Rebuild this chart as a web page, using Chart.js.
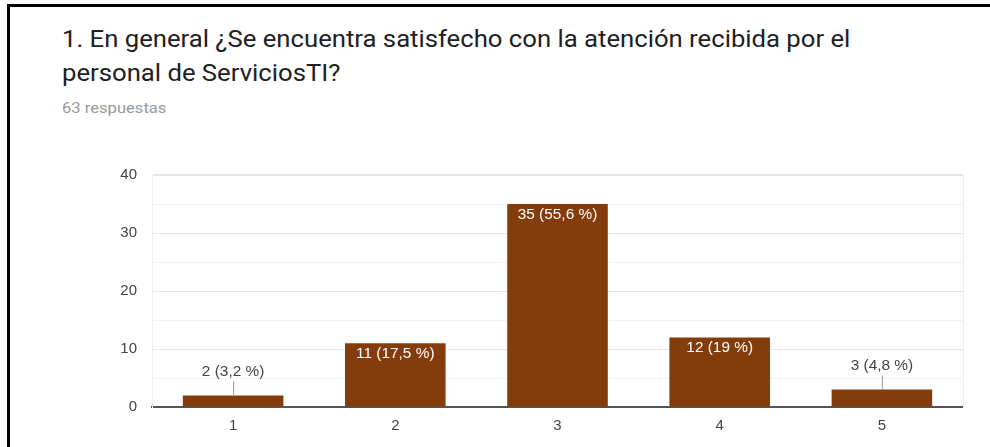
<!DOCTYPE html>
<html>
<head>
<meta charset="utf-8">
<script src="https://cdn.jsdelivr.net/npm/chart.js@4/dist/chart.umd.min.js"></script>
<style>
    html, body { margin: 0; padding: 0; background: #fff; }
    #wrap { position: relative; width: 990px; height: 447px; overflow: hidden; }
    #frame {
        position: absolute; left: 7px; top: 4px; width: 1200px; height: 800px;
        border-left: 3px solid #000; border-top: 3px solid #000;
    }
    #title {
        position: absolute; left: 62px; top: 22px; margin: 0; white-space: nowrap;
        font: 400 24px Roboto, Arial, sans-serif; line-height: 34px; color: #202124;
        transform: scaleX(1.07); transform-origin: 0 0;
    }
    #count {
        position: absolute; left: 62px; top: 99px; white-space: nowrap;
        font: 400 15.5px Roboto, Arial, sans-serif; color: #999;
        transform: scaleX(1.07); transform-origin: 0 0;
    }
    #chartBox { position: absolute; left: 0; top: 0; width: 990px; height: 447px; }
</style>
</head>
<body>
<div id="wrap">
    <div id="frame"></div>
    <h1 id="title">1. En general ¿Se encuentra satisfecho con la atención recibida por el<br>personal de ServiciosTI?</h1>
    <div id="count">63 respuestas</div>
    <div id="chartBox"><canvas id="satisfaction"></canvas></div>
</div>
<script>
    const ratings = ['1', '2', '3', '4', '5'];
    const answers = [2, 11, 35, 12, 3];
    const totalAnswers = 63;
    const BAR_COLOR = '#843c0c';
    const FONT = 'Arial, "Liberation Sans", sans-serif';

    // "3,2 %" style percentage, one decimal, comma separator
    function pctText(v) {
        const p = Math.round(v / totalAnswers * 1000) / 10;
        return String(p).replace('.', ',') + ' %';
    }

    function wideText(ctx, text, x, y) {
        ctx.save();
        ctx.translate(x, y);
        ctx.scale(1.1, 1);
        ctx.fillText(text, 0, 0);
        ctx.restore();
    }

    // value labels: inside the bar when tall enough, else above with a leader line
    const barLabels = {
        id: 'barLabels',
        afterDatasetsDraw(chart) {
            const ctx = chart.ctx;
            const meta = chart.getDatasetMeta(0);
            ctx.save();
            ctx.font = '14px ' + FONT;
            ctx.textAlign = 'center';
            ctx.textBaseline = 'middle';
            meta.data.forEach((bar, i) => {
                const v = answers[i];
                const text = v + ' (' + pctText(v) + ')';
                const h = bar.base - bar.y;
                if (h > 30) {
                    ctx.fillStyle = '#fff';
                    wideText(ctx, text, bar.x, bar.y + 11);
                } else {
                    ctx.strokeStyle = '#999';
                    ctx.lineWidth = 1;
                    ctx.beginPath();
                    ctx.moveTo(bar.x + 0.5, bar.y);
                    ctx.lineTo(bar.x + 0.5, bar.y - 14);
                    ctx.stroke();
                    ctx.fillStyle = '#444';
                    wideText(ctx, text, bar.x, bar.y - 23);
                }
            });
            ctx.restore();
        }
    };

    new Chart(document.getElementById('satisfaction'), {
        type: 'bar',
        data: {
            labels: ratings,
            datasets: [{
                data: answers,
                backgroundColor: BAR_COLOR,
                borderWidth: 0,
                categoryPercentage: 1,
                barPercentage: 0.62
            }]
        },
        options: {
            responsive: true,
            maintainAspectRatio: false,
            animation: false,
            layout: { padding: { top: 175, right: 27, bottom: 0, left: 0 } },
            plugins: {
                legend: { display: false },
                tooltip: { enabled: false }
            },
            scales: {
                x: {
                    afterFit: s => { s.height = 40; },
                    grid: { display: false, drawTicks: false },
                    border: { color: '#555', width: 2 },
                    ticks: {
                        padding: 10,
                        color: '#444',
                        font: { family: FONT, size: 15 }
                    }
                },
                y: {
                    min: 0,
                    max: 40,
                    afterFit: s => { s.width = 152; },
                    border: { color: '#eeeeee', width: 1 },
                    grid: {
                        drawTicks: false,
                        color: c => (c.tick.value % 10 === 0 ? '#e6e6e6' : '#f3f3f3'),
                        lineWidth: c => (c.tick.value === 40 ? 2 : 1)
                    },
                    ticks: {
                        stepSize: 5,
                        padding: 15,
                        color: '#444',
                        font: { family: FONT, size: 15 },
                        callback: v => (v % 10 === 0 ? v : '')
                    }
                },
                yRight: {
                    position: 'right',
                    min: 0,
                    max: 40,
                    afterFit: s => { s.width = 0; },
                    border: { color: '#eeeeee', width: 1 },
                    grid: { display: false },
                    ticks: { display: false }
                }
            }
        },
        plugins: [barLabels]
    });
</script>
</body>
</html>
